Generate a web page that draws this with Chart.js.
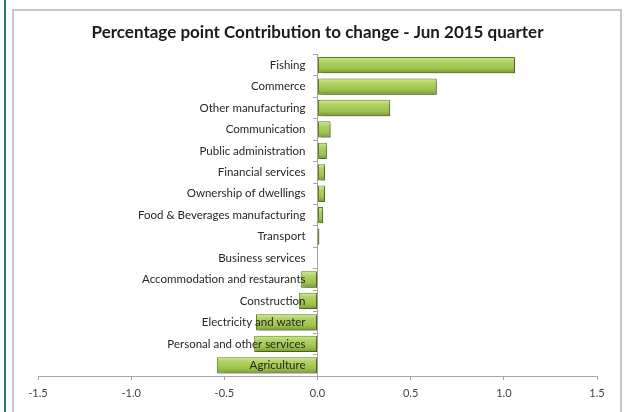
<!DOCTYPE html>
<html>
<head>
<meta charset="utf-8">
<script src="https://cdn.jsdelivr.net/npm/chart.js@4.4.1/dist/chart.umd.min.js"></script>
<style>
    html, body { margin: 0; padding: 0; background: #fff; }
    body { width: 628px; height: 412px; position: relative; overflow: hidden; }
    .edge { position: absolute; left: 4px; top: 0; width: 2px; height: 412px; background: #2b7a72; }
    .frame { position: absolute; left: 12px; top: 9px; width: 606px; height: 420px; border: 2px solid #c6c6c6; }
    #chart { position: absolute; left: 0; top: 0; }
</style>
</head>
<body>
<div class="edge"></div>
<div class="frame"></div>
<canvas id="chart" width="628" height="412"></canvas>
<script>
const sectors = [
    'Fishing',
    'Commerce',
    'Other manufacturing',
    'Communication',
    'Public administration',
    'Financial services',
    'Ownership of dwellings',
    'Food & Beverages manufacturing',
    'Transport',
    'Business services',
    'Accommodation and restaurants',
    'Construction',
    'Electricity and water',
    'Personal and other services',
    'Agriculture'
];
const contribution = [1.06, 0.64, 0.39, 0.07, 0.05, 0.04, 0.04, 0.03, 0.01, 0.0, -0.09, -0.10, -0.33, -0.34, -0.54];
const xTicks = [-1.5, -1.0, -0.5, 0.0, 0.5, 1.0, 1.5];

// light-to-dark vertical fill per bar, like a bevelled bar
const barFill = (c) => {
    const chart = c.chart;
    if (!chart.chartArea || c.dataIndex === undefined) return '#9bbb59';
    const y = chart.scales.y.getPixelForValue(c.dataIndex);
    const half = 8;
    const g = chart.ctx.createLinearGradient(0, y - half, 0, y + half);
    g.addColorStop(0, '#d3e89a');
    g.addColorStop(0.25, '#b2d464');
    g.addColorStop(0.7, '#9dc24c');
    g.addColorStop(1, '#799c32');
    return g;
};

// shadow under the bars, then the category names on top of them,
// right-aligned against the zero line
const barsAndNames = {
    id: 'barsAndNames',
    beforeDatasetsDraw(chart) {
        const ctx = chart.ctx;
        ctx.save();
        ctx.shadowColor = 'rgba(0,0,0,0.35)';
        ctx.shadowBlur = 3;
        ctx.shadowOffsetX = 2;
        ctx.shadowOffsetY = 2;
    },
    afterDatasetsDraw(chart) {
        const ctx = chart.ctx;
        ctx.restore();
        const { x, y } = chart.scales;
        const right = x.getPixelForValue(0) - 12;
        ctx.save();
        ctx.font = '11.5px Lato';
        ctx.fillStyle = '#262626';
        ctx.textAlign = 'right';
        ctx.textBaseline = 'middle';
        chart.data.labels.forEach((name, i) => {
            ctx.fillText(name, right, y.getPixelForValue(i));
        });
        ctx.restore();
    }
};

new Chart(document.getElementById('chart'), {
    type: 'bar',
    data: {
        labels: sectors,
        datasets: [{
            data: contribution,
            backgroundColor: barFill,
            borderColor: '#62802a',
            borderWidth: 1,
            borderSkipped: false,
            categoryPercentage: 1,
            barPercentage: 0.76
        }]
    },
    plugins: [barsAndNames],
    options: {
        indexAxis: 'y',
        responsive: false,
        animation: false,
        layout: { padding: { left: 38, right: 31, top: 0, bottom: 0 } },
        plugins: {
            legend: { display: false },
            tooltip: { enabled: false },
            title: {
                display: true,
                text: 'Percentage point Contribution to change - Jun 2015 quarter',
                color: '#1a1a1a',
                font: { family: 'Lato', size: 17, weight: 'bold' },
                padding: { top: 22, bottom: 12 }
            }
        },
        scales: {
            x: {
                min: -1.5,
                max: 1.5,
                afterBuildTicks: (scale) => { scale.ticks = xTicks.map(v => ({ value: v })); },
                afterFit: (scale) => { scale.height = 36; },
                ticks: {
                    color: '#404040',
                    font: { family: 'Lato', size: 11 },
                    padding: 7,
                    callback: (v) => Number(v).toFixed(1)
                },
                grid: { drawOnChartArea: false, tickLength: 4, color: '#a6a6a6' },
                border: { color: '#a6a6a6' }
            },
            y: {
                position: { x: 0 },
                ticks: { display: false },
                grid: { drawOnChartArea: false, tickLength: 4, color: '#a6a6a6', offset: true },
                border: { color: '#a6a6a6' }
            }
        }
    }
});
</script>
</body>
</html>
